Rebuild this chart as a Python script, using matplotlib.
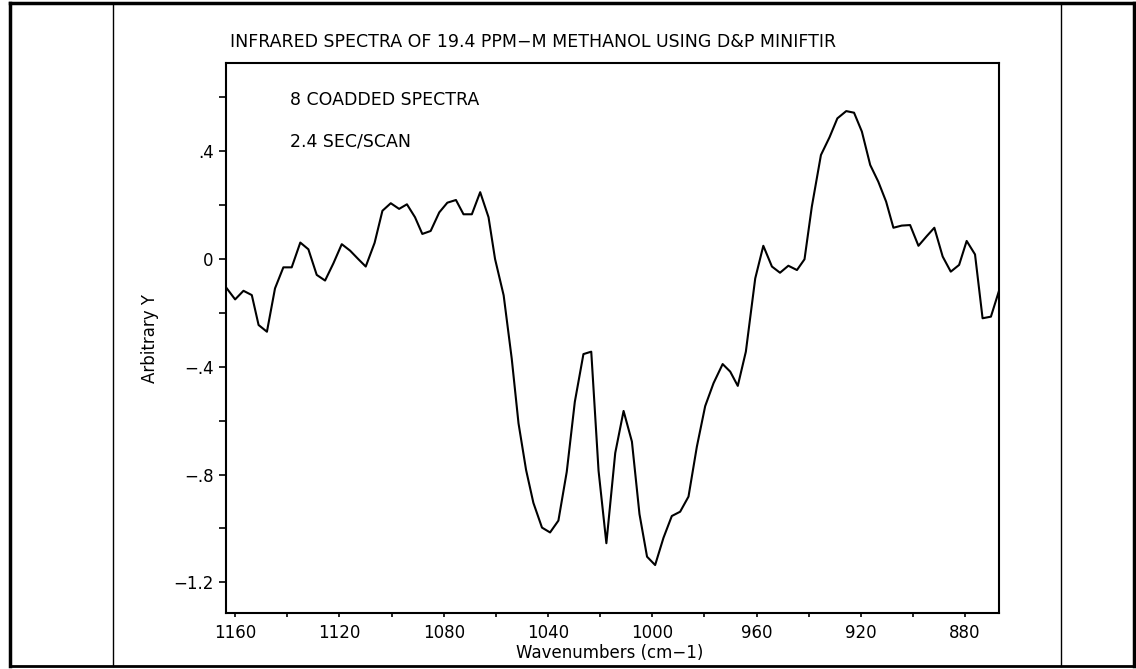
import matplotlib
matplotlib.use("Agg")
import matplotlib.pyplot as plt
from matplotlib.lines import Line2D
from matplotlib.ticker import MultipleLocator, FuncFormatter

# wavenumbers (cm-1) and absorbance-like values
wavenumber = [
  1163.2, 1160.0, 1156.8, 1153.6, 1151.0, 1147.8, 1144.7, 1141.5, 1138.3, 1135.0,
  1131.9, 1128.7, 1125.5, 1122.3, 1119.1, 1115.9, 1112.7, 1109.9, 1106.5, 1103.5,
  1100.3, 1097.1, 1094.1, 1091.0, 1088.2, 1085.0, 1081.7, 1078.6, 1075.3, 1072.4,
  1069.2, 1066.0, 1062.8, 1060.3, 1057.0, 1053.9, 1051.3, 1048.4, 1045.6, 1042.3,
  1039.2, 1036.0, 1032.8, 1029.7, 1026.4, 1023.4, 1020.6, 1017.6, 1014.2, 1011.0,
  1007.8, 1004.9, 1002.0, 998.9, 995.7, 992.5, 989.3, 986.1, 982.9, 979.7,
  976.5, 973.0, 970.1, 967.2, 964.1, 960.5, 957.4, 954.1, 951.0, 947.8,
  944.5, 941.6, 938.8, 935.3, 932.0, 929.0, 925.6, 922.6, 919.6, 916.4,
  913.3, 910.3, 907.5, 904.3, 901.1, 897.9, 894.7, 891.8, 888.6, 885.5,
  882.3, 879.4, 876.2, 873.3, 870.1, 866.9]
signal = [
  -0.109, -0.150, -0.118, -0.134, -0.245, -0.270, -0.109, -0.031, -0.031, 0.061,
  0.036, -0.059, -0.080, -0.016, 0.055, 0.031, -0.001, -0.028, 0.060, 0.179,
  0.207, 0.186, 0.203, 0.155, 0.093, 0.104, 0.173, 0.209, 0.219, 0.166,
  0.166, 0.248, 0.155, 0.000, -0.135, -0.370, -0.610, -0.783, -0.905, -0.997,
  -1.015, -0.971, -0.790, -0.530, -0.353, -0.344, -0.786, -1.055, -0.720, -0.564,
  -0.678, -0.947, -1.105, -1.136, -1.035, -0.954, -0.938, -0.882, -0.697, -0.546,
  -0.461, -0.390, -0.418, -0.471, -0.344, -0.072, 0.049, -0.028, -0.051, -0.025,
  -0.041, -0.001, 0.194, 0.386, 0.452, 0.522, 0.549, 0.543, 0.473, 0.349,
  0.287, 0.213, 0.116, 0.124, 0.126, 0.049, 0.085, 0.116, 0.009, -0.047,
  -0.022, 0.067, 0.017, -0.220, -0.214, -0.115]

title = "INFRARED SPECTRA OF 19.4 PPM\u2212M METHANOL USING D&P MINIFTIR"
notes = ["8 COADDED SPECTRA", "2.4 SEC/SCAN"]

W, H = 1136, 669
fig = plt.figure(figsize=(W / 100, H / 100), dpi=100)
plt.rcParams['font.family'] = ['DejaVu Sans']
fs = 12
fs_big = 12.5

# axes box in pixels: left 226, right 999, top 63, bottom 613
ax = fig.add_axes([226 / W, 1 - 613 / H, (999 - 226) / W, (613 - 63) / H])
ax.plot(wavenumber, signal, color='black', linewidth=1.5)

ax.set_xlim(1163.5, 867)
ax.set_ylim(-1.314, 0.7275)

ax.xaxis.set_major_locator(MultipleLocator(20))
ax.yaxis.set_major_locator(MultipleLocator(0.2))

def xfmt(v, pos):
  iv = int(round(v))
  return str(iv) if iv % 40 == 0 else ''

def yfmt(v, pos):
  k = int(round(v / 0.2))
  if k % 2 != 0:
    return ''
  s = ('%.1f' % abs(v)).lstrip('0')
  if k == 0:
    s = '0'
  return ('\u2212' + s) if k < 0 else s

ax.xaxis.set_major_formatter(FuncFormatter(xfmt))
ax.yaxis.set_major_formatter(FuncFormatter(yfmt))
ax.tick_params(axis='x', direction='out', length=3, width=1.2, pad=5, labelsize=fs)
ax.tick_params(axis='y', direction='out', length=5, width=1.2, pad=4, labelsize=fs)
for s in ax.spines.values():
  s.set_linewidth(1.5)

ax.text((150 - 226) / 773, 0.5, 'Arbitrary Y', rotation=90, ha='center', va='center',
        fontsize=fs, transform=ax.transAxes)
ax.text((610 - 226) / 773, (613 - 653) / 550, 'Wavenumbers (cm\u22121)', ha='center', va='center',
        fontsize=fs, transform=ax.transAxes)

ax.text((290 - 226) / 773, (613 - 100) / 550, notes[0], ha='left', va='center',
        fontsize=fs_big, transform=ax.transAxes)
ax.text((290 - 226) / 773, (613 - 141) / 550, notes[1], ha='left', va='center',
        fontsize=fs_big, transform=ax.transAxes)

fig.text(230 / W, 1 - 42 / H, title, ha='left', va='center', fontsize=fs_big)

# page frame around the scanned figure
def fline(x0, y0, x1, y1, lw):
  fig.add_artist(Line2D([x0 / W, x1 / W], [1 - y0 / H, 1 - y1 / H], color='black',
                        linewidth=lw, transform=fig.transFigure))

fline(10, 3, 1134, 3, 2.5)
fline(10, 666, 1134, 666, 2.0)
fline(10, 3, 10, 666, 2.5)
fline(1134, 3, 1134, 666, 2.5)
fline(113, 3, 113, 666, 1.0)
fline(1061, 3, 1061, 666, 1.0)

fig.savefig('out.png', dpi=100)
